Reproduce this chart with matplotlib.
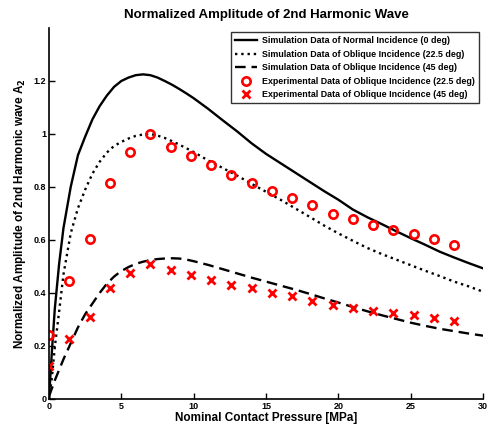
import matplotlib
matplotlib.use('Agg')
import matplotlib.pyplot as plt

plt.rcParams['font.family'] = ['Liberation Sans', 'DejaVu Sans']
plt.rcParams['font.weight'] = 'bold'
plt.rcParams['axes.labelweight'] = 'bold'
plt.rcParams['axes.titleweight'] = 'bold'
plt.rcParams['mathtext.default'] = 'bf'

# simulation curves
x_sim = [0, 0.2, 0.4, 0.7, 1.0, 1.5, 2, 2.5, 3, 3.5, 4, 4.5, 5, 5.5, 6, 6.5,
         7, 7.5, 8, 8.5, 9, 9.5, 10, 11, 12, 13, 14, 15, 16, 17, 18, 19, 20,
         21, 22, 23, 24, 25, 26, 27, 28, 29, 30]
sim_0deg = [0, 0.18, 0.34, 0.51, 0.645, 0.80, 0.92, 0.99, 1.055, 1.105, 1.145,
            1.178, 1.20, 1.213, 1.222, 1.225, 1.222, 1.213, 1.20, 1.186, 1.17,
            1.153, 1.135, 1.095, 1.052, 1.01, 0.965, 0.925, 0.89, 0.855, 0.82,
            0.785, 0.752, 0.715, 0.686, 0.66, 0.633, 0.607, 0.582, 0.556, 0.534,
            0.513, 0.493]
sim_22deg = [0, 0.08, 0.195, 0.33, 0.47, 0.625, 0.72, 0.79, 0.85, 0.895, 0.93,
             0.955, 0.97, 0.983, 0.993, 0.998, 1.0, 0.994, 0.985, 0.973, 0.96,
             0.946, 0.932, 0.90, 0.872, 0.843, 0.812, 0.782, 0.752, 0.72, 0.688,
             0.655, 0.625, 0.597, 0.57, 0.547, 0.526, 0.505, 0.484, 0.464, 0.443,
             0.425, 0.405]
sim_45deg = [0.01, 0.04, 0.07, 0.11, 0.15, 0.21, 0.27, 0.32, 0.36, 0.40, 0.435,
             0.462, 0.483, 0.498, 0.51, 0.518, 0.524, 0.528, 0.53, 0.531, 0.53,
             0.526, 0.52, 0.506, 0.49, 0.474, 0.458, 0.443, 0.428, 0.413, 0.397,
             0.38, 0.364, 0.347, 0.331, 0.316, 0.302, 0.288, 0.276, 0.265, 0.256,
             0.247, 0.239]

# experimental data
x_exp = [0, 1.4, 2.8, 4.2, 5.6, 7.0, 8.4, 9.8, 11.2, 12.6, 14, 15.4, 16.8,
         18.2, 19.6, 21, 22.4, 23.8, 25.2, 26.6, 28]
exp_22deg = [0.242, 0.445, 0.604, 0.816, 0.932, 1.0, 0.951, 0.917, 0.883,
             0.847, 0.815, 0.785, 0.758, 0.732, 0.698, 0.679, 0.657, 0.638,
             0.623, 0.604, 0.581]
exp_45deg = [0.125, 0.226, 0.309, 0.419, 0.475, 0.509, 0.485, 0.468, 0.449,
             0.432, 0.419, 0.400, 0.389, 0.370, 0.355, 0.343, 0.332, 0.325,
             0.317, 0.306, 0.294]

fig = plt.figure(figsize=(4.91, 4.28), dpi=100)
ax = fig.add_axes([0.0998, 0.0678, 0.8839, 0.8668])

ax.plot(x_sim, sim_0deg, 'k-', lw=1.7,
        label='Simulation Data of Normal Incidence (0 deg)')
ax.plot(x_sim, sim_22deg, 'k:', lw=1.7,
        label='Simulation Data of Oblique Incidence (22.5 deg)')
ax.plot(x_sim, sim_45deg, 'k--', lw=1.7, dashes=(4.5, 2.5),
        label='Simulation Data of Oblique Incidence (45 deg)')
ax.plot(x_exp, exp_22deg, 'o', ls='none', mfc='none', mec='red', mew=1.9, ms=6,
        label='Experimental Data of Oblique Incidence (22.5 deg)')
ax.plot(x_exp, exp_45deg, 'x', ls='none', color='red', mew=2.0, ms=5.5,
        label='Experimental Data of Oblique Incidence (45 deg)')

ax.set_xlim(0, 30)
ax.set_ylim(0, 1.4)
ax.set_xticks([0, 5, 10, 15, 20, 25, 30])
ax.set_yticks([0, 0.2, 0.4, 0.6, 0.8, 1.0, 1.2])
ax.set_yticklabels(['0', '0.2', '0.4', '0.6', '0.8', '1', '1.2'])
ax.tick_params(direction='in', length=4, width=1, labelsize=6.5, pad=2)
ax.spines['top'].set_visible(False)
ax.spines['right'].set_visible(False)
for s in ['left', 'bottom']:
    ax.spines[s].set_linewidth(1.2)

ax.set_title('Normalized Amplitude of 2nd Harmonic Wave', fontsize=9.5, pad=7)
ax.set_xlabel('Nominal Contact Pressure [MPa]', fontsize=8.5, labelpad=1)
ax.set_ylabel('Normalized Amplitude of 2nd Harmonic wave A$_2$', fontsize=8.5,
              labelpad=4)

leg = ax.legend(loc='upper right', fontsize=6.4, frameon=True, fancybox=False,
                edgecolor='black', handlelength=2.5, handletextpad=0.5,
                labelspacing=0.5, borderaxespad=0.5, borderpad=0.45)
leg.get_frame().set_linewidth(1.0)

plt.savefig('out.png', dpi=100)
plt.close()
